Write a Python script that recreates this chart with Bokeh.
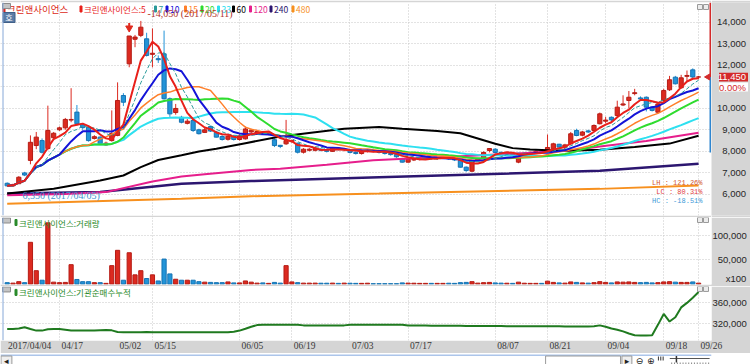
import numpy as np
import pandas as pd
from bokeh.plotting import figure
from bokeh.layouts import column, row
from bokeh.models import Range1d, FixedTicker, LinearAxis, Span, ColumnDataSource
from bokeh.core.properties import value
from bokeh.embed import file_html
from bokeh.resources import INLINE

# ---------------- data ----------------
stock = "크린앤사이언스"
holidays = ["2017-05-01", "2017-05-03", "2017-05-05", "2017-05-09", "2017-06-06", "2017-08-15"]
days = [d for d in pd.bdate_range("2017-04-04", "2017-09-26")
        if d.strftime("%Y-%m-%d") not in holidays]

open_ = [6520, 6400, 6500, 7000, 7580, 8270, 8500, 8130, 8630, 9000,
         9090, 9450, 9820, 9240, 9120, 8600, 8660, 8300, 8500, 8740,
         10590, 12060, 13200, 13380, 13220, 12500, 12300, 12525, 10440, 9800,
         9580, 9300, 9430, 9000, 8880, 9150, 8890, 8690, 8560, 8700,
         8550, 8580, 8900, 8850, 8900, 8800, 8540, 8280, 8350, 8450,
         8380, 7960, 8050, 8050, 8100, 8050, 8000, 8150, 8080, 8050,
         7950, 7900, 8000, 8050, 8000, 7950, 7900, 7850, 7650, 7500,
         7600, 7620, 7650, 7700, 7680, 7700, 7750, 7650, 7576, 7266,
         7080, 7600, 7700, 8040, 8100, 7950, 7850, 7900, 7500, 7850,
         7900, 7950, 8000, 8040, 8120, 8330, 8200, 8350, 8970, 8750,
         8950, 8970, 9280, 9400, 9580, 9660, 10150, 10360, 10680, 10480,
         10510, 10050, 9815, 10360, 10856, 11440, 10950, 11480, 11780, 11450]
high = [6560, 6500, 6850, 7050, 8740, 8900, 8600, 10120, 8900, 9150,
        9550, 10930, 10150, 9300, 9200, 8750, 8700, 8450, 9900, 11200,
        10700, 13350, 13400, 14050, 13500, 13700, 12450, 13600, 10500, 10200,
        9650, 9500, 9500, 9050, 9100, 9200, 8950, 8750, 8750, 8750,
        8800, 9150, 9050, 9000, 8950, 8900, 8600, 8300, 9460, 8550,
        8400, 8150, 8150, 8180, 8150, 8100, 8200, 8200, 8150, 8100,
        8000, 8050, 8100, 8130, 8050, 8000, 7950, 7900, 7700, 7700,
        7680, 7700, 7750, 7750, 7750, 7800, 7800, 7700, 7600, 7300,
        7600, 7700, 8000, 8150, 8150, 8000, 7950, 7950, 7850, 7950,
        8000, 8050, 8050, 8780, 8400, 8350, 8350, 8900, 9050, 8950,
        9000, 9250, 9800, 9600, 9620, 10350, 10600, 10800, 10900, 10550,
        10550, 10100, 10250, 10900, 11500, 11500, 11550, 11750, 11850, 11500]
low = [6380, 6350, 6480, 6850, 7400, 8100, 7900, 8050, 8550, 8950,
       9000, 9350, 9200, 9000, 8450, 8550, 8300, 8250, 8450, 8700,
       10100, 11900, 12830, 13300, 12400, 11900, 12100, 10400, 9600, 9700,
       9300, 9250, 8900, 8780, 8850, 8900, 8650, 8500, 8500, 8500,
       8500, 8550, 8850, 8800, 8780, 8750, 8200, 8150, 8300, 8400,
       7900, 7900, 8000, 8000, 8000, 7950, 7980, 8050, 8000, 7900,
       7850, 7850, 7950, 7950, 7900, 7850, 7800, 7700, 7480, 7480,
       7550, 7580, 7600, 7620, 7600, 7650, 7600, 7550, 7250, 7050,
       7050, 7550, 7680, 7950, 7900, 7820, 7800, 7800, 7450, 7800,
       7850, 7900, 7920, 8000, 8100, 8150, 8150, 8300, 8700, 8700,
       8850, 8950, 9250, 9300, 9400, 9600, 10100, 10000, 10600, 10350,
       9850, 9850, 9800, 10300, 10800, 11100, 10900, 11250, 11350, 11350]
close = [6400, 6450, 6800, 6900, 8420, 8660, 7960, 8970, 8840, 9090,
         9480, 9480, 9280, 9100, 8500, 8680, 8350, 8380, 8830, 10360,
         10280, 13350, 13300, 13760, 12450, 12550, 12250, 10440, 9740, 9990,
         9350, 9400, 8970, 8820, 9000, 8940, 8660, 8550, 8700, 8550,
         8720, 9040, 8980, 8920, 8820, 8850, 8270, 8230, 8500, 8500,
         7960, 8100, 8100, 8130, 8050, 8000, 8150, 8080, 8100, 7950,
         7900, 8000, 8050, 8000, 7950, 7900, 7850, 7750, 7500, 7650,
         7620, 7650, 7700, 7680, 7700, 7750, 7650, 7600, 7266, 7110,
         7576, 7650, 7950, 8130, 7950, 7850, 7900, 7850, 7800, 7900,
         7950, 8000, 7980, 8180, 8350, 8200, 8300, 8815, 8735, 8900,
         8900, 9200, 9740, 9450, 9460, 10050, 10200, 10510, 10720, 10430,
         10050, 9900, 10200, 10820, 11320, 11134, 11410, 11520, 11450, 11450]
volume = [3000, 2000, 5000, 3000, 86000, 27600, 8000, 126000, 4000, 3000,
          3500, 40000, 9500, 5000, 5000, 3000, 3000, 1500, 38000, 69500,
          8000, 64500, 19000, 27600, 11500, 19000, 6500, 51500, 21000, 10000,
          8000, 8000, 8000, 5000, 4000, 3500, 3000, 3000, 4500, 2500,
          2500, 6500, 4000, 2000, 2500, 1500, 3500, 2000, 38000, 4500,
          3000, 2000, 2000, 2000, 1800, 1800, 2000, 1500, 2000, 1800,
          1500, 1500, 1800, 800, 800, 800, 800, 800, 2500, 2000,
          1800, 1500, 1500, 1500, 1500, 1500, 1800, 1500, 3000, 3500,
          5000, 2000, 3000, 3500, 2500, 2000, 1800, 1500, 4000, 1800,
          1500, 1500, 1500, 6000, 3500, 2500, 2000, 4500, 3500, 2500,
          2000, 3000, 5000, 3500, 2500, 4500, 4000, 4500, 3500, 3000,
          3500, 2500, 3000, 4500, 5000, 4000, 3500, 3500, 4500, 2000]
inst_cum = [310000, 310000, 311000, 313500, 310000, 307000, 307000, 309500, 310000, 310000,
            308500, 307000, 307000, 307000, 307000, 307000, 307500, 308000, 307500, 304500,
            303700, 303700, 303700, 304000, 304500, 304000, 303700, 303700, 303700, 303700,
            303700, 303700, 303700, 303700, 303700, 303700, 303700, 303700, 303700, 305000,
            307000, 310500, 314500, 317500, 318000, 318000, 318000, 318000, 318000, 318000,
            318000, 317000, 317000, 317000, 317000, 317000, 317000, 317000, 317000, 318000,
            318000, 318000, 318000, 318000, 318000, 318000, 318000, 318000, 318000, 316800,
            316800, 316700, 316600, 316500, 316500, 316400, 316300, 316200, 316100, 316000,
            316000, 315900, 315800, 315700, 315700, 315600, 315500, 315500, 315400, 315400,
            315300, 315300, 315200, 315200, 315100, 315100, 315000, 315000, 315000, 315000,
            315000, 315500, 317000, 314500, 311000, 308700, 305500, 301500, 298000, 297500,
            297500, 298000, 318000, 338800, 324300, 332600, 351400, 360000, 370000, 380700]

ma_short_periods = [5, 7, 10, 15, 20, 33]
ma60_day = [0, 8, 16, 20, 23, 26, 30, 33, 36, 41, 47, 53, 58, 64, 68, 74, 78, 81, 84, 87, 90, 94, 98, 102, 108, 114, 119]
ma60_val = [6050, 6270, 6650, 6880, 7270, 7600, 7820, 7990, 8120, 8380, 8690, 8890, 9050, 9130, 9050, 8940, 8840, 8600, 8350, 8150, 8090, 8040, 8040, 8070, 8200, 8360, 8720]
ma120_day = [0, 10, 17, 25, 30, 34, 42, 47, 55, 63, 72, 80, 90, 97, 102, 110, 119]
ma120_val = [5960, 6020, 6110, 6600, 6830, 6940, 7140, 7190, 7380, 7590, 7700, 7800, 7930, 8040, 8220, 8480, 8860]
ma240_day = [0, 16, 30, 42, 64, 102, 119]
ma240_val = [6045, 6110, 6500, 6620, 6800, 7100, 7420]
ma480_day = [0, 30, 42, 64, 102, 119]
ma480_val = [5570, 5800, 5920, 6040, 6260, 6420]

axis_dates = ["2017-04-04", "2017-04-17", "2017-05-02", "2017-05-15", "2017-06-05", "2017-06-19",
              "2017-07-03", "2017-07-17", "2017-08-07", "2017-08-21", "2017-09-04", "2017-09-18", "2017-09-26"]
grid_dates = ["2017-04-17", "2017-05-15", "2017-06-05", "2017-06-19", "2017-07-03", "2017-07-17",
              "2017-08-07", "2017-08-21", "2017-09-04", "2017-09-18", "2017-09-26"]
signal_days = ["2017-05-08"]
price_ticks = [6000, 7000, 8000, 9000, 10000, 12000, 13000, 14000]
price_grid = [6000, 7000, 8000, 9000, 10000, 11000, 12000, 13000, 14000]
vol_ticks = [50000, 100000]
inst_ticks = [320000, 360000]

# ---------------- layout constants (pixels) ----------------
W, RIGHT_W = 750, 39
FW = W - RIGHT_W
STEP, X0 = 5.81, 6.7
PANEL, GRID = "#d5d5d5", "#c6c6c6"
UP, UP_LINE = "#dc2a20", "#b51c15"
DN, DN_LINE = "#2294d8", "#1673b3"
TAG_RED = "#d42a2a"
MA_COL = {5: "#e8201a", 7: "#2a9a9a", 10: "#1414d8", 15: "#ff7f2a", 20: "#2fdc2f",
          33: "#2ee0f0", 60: "#000000", 120: "#e61e8c", 240: "#2c1670", 480: "#f7901e"}
KFONT = "Noto Sans CJK KR"
NFONT = "Liberation Sans"
XFONT = "Liberation Sans Narrow"


def dx(px):
    return (px - X0) / STEP


def price_at(py):
    return 14000 - (py - 21.5) / 0.02156


def vol_at(py):
    return (283.6 - py) / 24.3 * 50000


def inst_at(py):
    return 360000 - (py - 302.7) * 40000 / 21.3


xr = Range1d(dx(0), dx(FW))
date_idx = {d.strftime("%Y-%m-%d"): i for i, d in enumerate(days)}
grid_pos = [date_idx[d] for d in grid_dates]


def pane(w, h, yr, top, bottom, right, xaxis=False):
    f = figure(width=w, height=h, x_range=xr, y_range=yr, output_backend="svg",
               toolbar_location=None, x_axis_location=("below" if xaxis else None),
               y_axis_location=None, min_border_left=0, min_border_right=right,
               min_border_top=top, min_border_bottom=bottom)
    f.outline_line_color = None
    f.border_fill_color = PANEL
    f.background_fill_color = "white"
    f.xgrid.ticker = FixedTicker(ticks=grid_pos)
    f.xgrid.grid_line_color = GRID
    f.ygrid.grid_line_color = GRID
    f.xgrid.grid_line_dash = "1 2"
    f.ygrid.grid_line_dash = "1 2"
    f.add_layout(Span(location=dx(2.5), dimension="height", line_color="#86a8d8", line_width=1))
    return f


FS, PS = "\u2007", "\u2008"


def rpad(s, ref):
    nd = sum(ch.isdigit() for ch in ref) - sum(ch.isdigit() or ch == "x" for ch in s)
    nc = ref.count(",") - s.count(",")
    return FS * max(nd, 0) + PS * max(nc, 0) + s


def right_axis(f, ticks, labels, standoff):
    ax = LinearAxis(ticker=FixedTicker(ticks=ticks), major_label_overrides=dict(zip(ticks, labels)),
                    axis_line_color=None, major_tick_line_color=None, minor_tick_line_color=None,
                    major_tick_in=0, major_tick_out=0, major_label_standoff=standoff,
                    major_label_text_font=NFONT, major_label_text_font_size="9.5px",
                    major_label_text_color="#262626")
    f.add_layout(ax, "right")


def txt(f, conv, px, py, s, color, font, size, align="left"):
    f.text(x=[dx(px)], y=[conv(py)], text=[s], text_color=color, text_font=value(font),
           text_font_size=size, text_align=align, text_baseline="middle")


def box(f, conv, px, py, w, h, fill, line=None):
    f.rect(x=[dx(px)], y=[conv(py)], width=w, height=h, width_units="screen",
           height_units="screen", fill_color=fill, line_color=(line or fill))


def pane_icons(f, conv, py):
    box(f, conv, 6, py + 2.5, 8, 5, "#c4c4c4", "#8c8c8c")
    box(f, conv, 699.5, py + 2, 5, 5, "#ececec", "#9a9a9a")
    box(f, conv, 705.5, py + 2, 5, 5, "#ececec", "#9a9a9a")


idx = np.arange(len(days))
o, h, l, c = (np.array(a, dtype=float) for a in (open_, high, low, close))
up = c >= o
src = ColumnDataSource(dict(x=idx, o=o, h=h, l=l, c=c, top=np.maximum(o, c), bot=np.minimum(o, c),
                            fill=np.where(up, UP, DN), line=np.where(up, UP_LINE, DN_LINE),
                            v=np.array(volume, dtype=float)))

# ---------------- main price pane ----------------
yrA = Range1d(price_at(215), price_at(2))
fA = pane(FW, 217, yrA, 2, 2, 0)
fA.ygrid.ticker = FixedTicker(ticks=price_grid)

fA.segment(x0="x", y0="l", x1="x", y1="h", source=src, line_color="fill", line_width=1)
fA.vbar(x="x", width=0.72, top="top", bottom="bot", source=src, fill_color="fill", line_color="line", line_width=1)

for n, dd, vv in ((480, ma480_day, ma480_val), (240, ma240_day, ma240_val),
                  (120, ma120_day, ma120_val), (60, ma60_day, ma60_val)):
    fA.line(dd, vv, line_color=MA_COL[n], line_width=(2.5 if n == 240 else 2))

cs = pd.Series(c)
for n in sorted(ma_short_periods, reverse=True):
    m = cs.rolling(n, min_periods=1).mean().values
    if n == 7:
        fA.line(idx, m, line_color=MA_COL[n], line_width=1, line_dash="4 2")
    else:
        fA.line(idx, m, line_color=MA_COL[n], line_width=(1.5 if n == 15 else 2))

for d in signal_days:
    i = date_idx[d]
    fA.scatter(x=[i], y=[h[i] + 8 / 0.02156], marker="inverted_triangle", size=7, color="#e02a1e")
    fA.segment(x0=[i], y0=[h[i] + 10 / 0.02156], x1=[i], y1=[h[i] + 13 / 0.02156], line_color="#e02a1e", line_width=2)

legend_items = [stock, stock + ":5", "7", "10", "15", "20", "33", "60", "120", "240", "480"]
legend_cols = [UP, MA_COL[5], MA_COL[7], MA_COL[10], MA_COL[15], MA_COL[20], MA_COL[33],
               MA_COL[60], MA_COL[120], MA_COL[240], MA_COL[480]]
legend_px = [3.5, 80.5, 155, 166.5, 185, 201.5, 218, 233, 250, 270.5, 292.5]
legend_size = ["9.5px"] + ["8.5px"] * 10
for s, col, px, fs in zip(legend_items, legend_cols, legend_px, legend_size):
    box(fA, price_at, px, 8.5, 2, 6, col)
    txt(fA, price_at, px + 3, 8.5, s, col, KFONT, fs)

hi_i, lo_i = int(np.argmax(h)), int(np.argmin(l))
txt(fA, price_at, 147, 12.5, f"-{int(h[hi_i]):,} ({days[hi_i]:%Y/%m/%d})", "#b0342b", XFONT, "10px")
txt(fA, price_at, 22, 195, f"{int(l[lo_i]):,} ({days[lo_i]:%Y/%m/%d})", "#3f93d2", XFONT, "10px")

LH = (h.max() / l.min() - 1) * 100
LC = (c[-1] / l.min() - 1) * 100
HC = (c[-1] / h.max() - 1) * 100
txt(fA, price_at, 702, 182, f"LH : {LH:.2f}%", "#d2552d", "Liberation Mono", "7px", "right")
txt(fA, price_at, 702, 191.5, f"LC : {LC:.2f}%", "#e23b3b", "Liberation Mono", "7px", "right")
txt(fA, price_at, 702, 200.5, f"HC : {HC:.2f}%", "#3d9ad8", "Liberation Mono", "7px", "right")

box(fA, price_at, 6, 5.5, 8, 5, "#c4c4c4", "#8c8c8c")
box(fA, price_at, 8.5, 17, 12, 10, "#5b7ca6", "#3f5f88")
txt(fA, price_at, 8.5, 17, "호", "white", KFONT, "8px", "center")
box(fA, price_at, 699.5, 6.5, 5, 5, "#ececec", "#9a9a9a")
box(fA, price_at, 705.5, 6.5, 5, 5, "#ececec", "#9a9a9a")

last = c[-1]
chg = (c[-1] / c[-2] - 1) * 100
fA.segment(x0=[dx(710)], y0=[price_at(2)], x1=[dx(710)], y1=[last], line_color=TAG_RED, line_width=2)
fA.segment(x0=[dx(710)], y0=[last], x1=[dx(710)], y1=[price_at(152)], line_color="#2f86d0", line_width=2)
fA.scatter(x=[dx(707.5)], y=[last], marker="triangle", angle=np.pi / 2, size=6, color=TAG_RED)

# price scale panel (shares the price range)
fS = figure(width=RIGHT_W, height=217, x_range=Range1d(0, RIGHT_W), y_range=yrA, output_backend="svg",
            toolbar_location=None, x_axis_location=None, y_axis_location=None,
            min_border_left=0, min_border_right=0, min_border_top=2, min_border_bottom=2)
fS.outline_line_color = None
fS.background_fill_color = PANEL
fS.border_fill_color = PANEL
fS.xgrid.visible = False
fS.ygrid.visible = False
fS.text(x=[34.5] * len(price_ticks), y=price_ticks, text=[f"{t:,}" for t in price_ticks],
        text_color="#262626", text_font=value(NFONT), text_font_size="9.5px",
        text_align="right", text_baseline="middle")
fS.quad(left=[7.5], right=[36.5], top=[price_at(72.2)], bottom=[price_at(81)], fill_color=TAG_RED, line_color=None)
fS.text(x=[34.5], y=[last], text=[f"{int(last):,}"], text_color="white", text_font=value(NFONT),
        text_font_size="9.5px", text_align="right", text_baseline="middle")
fS.quad(left=[7.5], right=[36.5], top=[price_at(82)], bottom=[price_at(91)], fill_color="white", line_color=None)
fS.text(x=[34.5], y=[price_at(86.5)], text=[f"{chg:.2f}%"], text_color=TAG_RED, text_font=value(NFONT),
        text_font_size="9.5px", text_align="right", text_baseline="middle")

# ---------------- volume pane ----------------
fB = pane(W, 69, Range1d(vol_at(284), vol_at(217)), 0, 2, RIGHT_W)
fB.ygrid.ticker = FixedTicker(ticks=vol_ticks)
x100_tick = round(vol_at(278.5))
right_axis(fB, vol_ticks + [x100_tick],
           [rpad(f"{t:,}", "100,000") for t in vol_ticks] + [rpad("x100", "100,000")], 1)
fB.vbar(x="x", width=0.72, top="v", bottom=0, source=src, fill_color="fill", line_color="line", line_width=1)
pane_icons(fB, vol_at, 217.5)
box(fB, vol_at, 15.5, 222, 2, 6, "#2a8a2a")
txt(fB, vol_at, 18.5, 222, stock + ":거래량", "#2a8a2a", KFONT, "8.5px")

# ---------------- institutional cumulative pane ----------------
fC = pane(W, 67, Range1d(inst_at(341), inst_at(286)), 0, 12, RIGHT_W, xaxis=True)
fC.ygrid.ticker = FixedTicker(ticks=inst_ticks)
right_axis(fC, inst_ticks, [f"{t:,}" for t in inst_ticks], 1)
fC.line(idx, inst_cum, line_color="#1f7a1f", line_width=2)
pane_icons(fC, inst_at, 286.5)
box(fC, inst_at, 15.5, 292, 2, 6, "#2a8a2a")
txt(fC, inst_at, 18.5, 292, stock + ":기관순매수누적", "#2a8a2a", KFONT, "8.5px")

lab_text = [days[date_idx[d]].strftime("%Y/%m/%d" if k == 0 else "%m/%d") for k, d in enumerate(axis_dates)]
lab_pos = []
for d, t in zip(axis_dates, lab_text):
    wpx = sum(4.33 if ch.isdigit() else 2.17 for ch in t)
    lab_pos.append(round(date_idx[d] + (3 + wpx / 2) / STEP, 4))
xa = fC.xaxis[0]
xa.ticker = FixedTicker(ticks=lab_pos)
xa.major_label_overrides = dict(zip(lab_pos, lab_text))
xa.axis_line_color = None
xa.major_tick_line_color = None
xa.minor_tick_line_color = None
xa.major_tick_in = 0
xa.major_tick_out = 0
xa.major_label_standoff = 0
xa.major_label_text_font = XFONT
xa.major_label_text_font_size = "9.5px"
xa.major_label_text_color = "#383838"

# ---------------- bottom strip (scroll bar chrome) ----------------
fD = figure(width=W, height=11, x_range=Range1d(0, W), y_range=Range1d(11, 0), output_backend="svg",
            toolbar_location=None, x_axis_location=None, y_axis_location=None,
            min_border_left=0, min_border_right=0, min_border_top=0, min_border_bottom=0)
fD.outline_line_color = None
fD.background_fill_color = "white"
fD.border_fill_color = "white"
fD.xgrid.visible = False
fD.ygrid.visible = False
fD.segment(x0=[0], y0=[0.5], x1=[W], y1=[0.5], line_color="#5a8bd6", line_width=1)
fD.quad(left=[0.5, 575, 655.5], right=[12, 654, 666], top=[1.5, 1.5, 1.5], bottom=[10.5, 10.5, 10.5],
        fill_color=["#efefef", "white", "#efefef"], line_color="#9a9a9a")
fD.text(x=[6, 660.75, 674, 686], y=[6, 6, 6, 6], text=["◂", "▸", "⊖", "⊕"], text_color="#222222",
        text_font=value("DejaVu Sans"), text_font_size="9px", text_align="center", text_baseline="middle")
fD.segment(x0=[694, 696.5, 699], y0=[2, 2, 2], x1=[694, 696.5, 699], y1=[6, 6, 6], line_color="#333333")
fD.segment(x0=[706], y0=[4], x1=[748], y1=[4], line_color="#555555")
fD.segment(x0=[713], y0=[1.5], x1=[713], y1=[8], line_color="#333333", line_width=1.5)
tk = np.arange(708, 748, 3)
fD.segment(x0=tk, y0=np.full(len(tk), 8), x1=tk, y1=np.full(len(tk), 10.5), line_color="#888888")

layout = column(row(fA, fS, spacing=0), fB, fC, fD, spacing=0)
open("out.html", "w").write(file_html(layout, INLINE))
